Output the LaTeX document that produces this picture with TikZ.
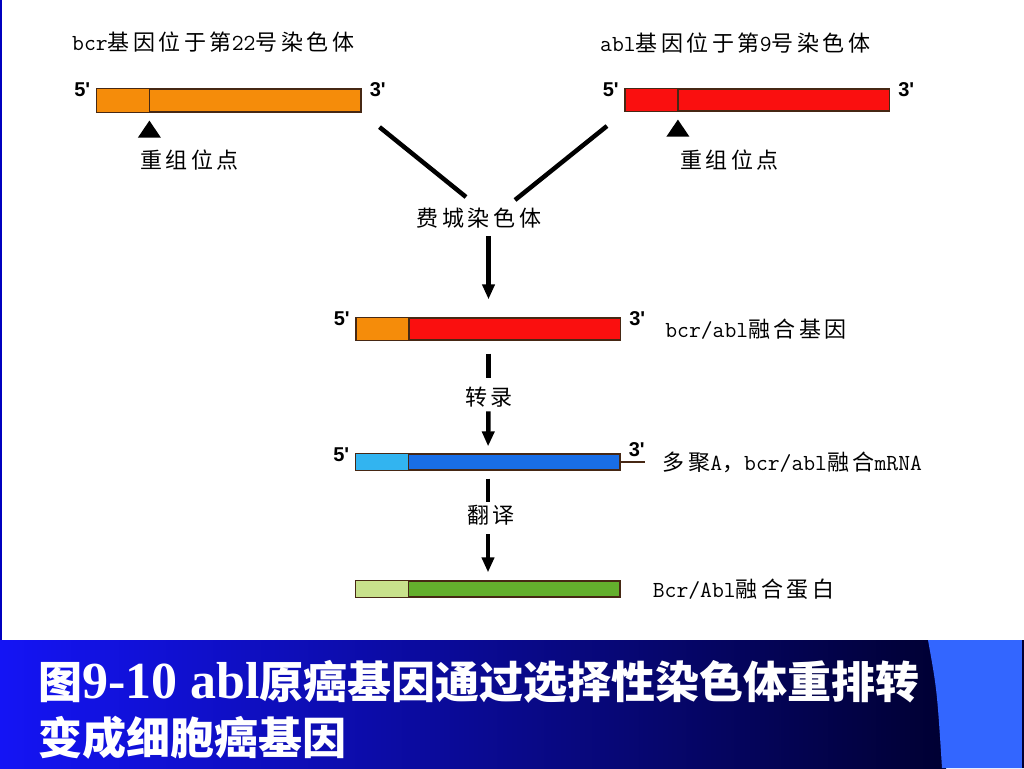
\documentclass[tikz,border=0pt]{standalone}
\usepackage{fontspec}
\setmainfont{Noto Sans CJK SC}
\newfontfamily\cjk[LetterSpace=16]{Noto Sans CJK SC}
\newfontfamily\tnr{Liberation Serif}
\newfontfamily\arial{Liberation Sans}
\usepackage{tikz}
\usetikzlibrary{arrows.meta}
\usetikzlibrary{positioning}
\definecolor{bcrorange}{RGB}{245,140,10}
\definecolor{ablred}{RGB}{250,15,15}
\definecolor{rnalight}{RGB}{50,180,240}
\definecolor{rnablue}{RGB}{25,110,230}
\definecolor{protlight}{RGB}{200,225,140}
\definecolor{protgreen}{RGB}{100,175,45}
\definecolor{barline}{RGB}{70,40,20}
\definecolor{bannerleft}{RGB}{20,20,245}
\definecolor{bannerright}{RGB}{0,0,50}
\definecolor{bannerside}{RGB}{51,102,255}
\newcommand{\lat}{\fontsize{23}{24}\selectfont\ttfamily}

\begin{document}
\begin{tikzpicture}[x=1pt,y=-1pt,
  >={Triangle[length=15pt,width=12pt]},
  gene/.style={draw=barline,line width=1.2pt,inner sep=0pt,minimum width=264pt},
  link/.style={line width=4.5pt},
  lbl/.style={inner sep=0pt,font=\fontsize{22}{24}\selectfont\cjk},
  prime/.style={inner sep=0pt,font=\fontsize{20}{22}\selectfont\arial\bfseries},
  banner/.style={inner sep=0pt,text=white,font=\fontsize{44}{50}\selectfont\bfseries}]
      \fill[white] (0,0) rectangle (1024,768);
      \useasboundingbox (0,0) rectangle (1024,768);
      \draw[blue!75!black,line width=2pt] (1,0) -- (1,640);

     \node [lbl,anchor=west] (T1) at (72,42) {{\lat bcr}基因位于第{\lat 22}号染色体};
     \node [lbl,anchor=west] (T2) at (600,43) {{\lat abl}基因位于第{\lat 9}号染色体};

     \node [gene,fill=bcrorange,minimum height=23pt] (B1) at (229,100.5) {};
     \node [gene,fill=ablred,minimum height=22pt] (B2) at (757.5,100) {};
     \node [gene,fill=ablred,minimum height=22pt] (F1) at (488.5,329) {};
     \node [gene,fill=rnablue,minimum height=16pt] (M1) at (488,462) {};
     \node [gene,fill=protgreen,minimum height=16pt] (P1) at (488,589) {};

     \foreach \n/\c in {B1/bcrorange,B2/ablred,F1/bcrorange,M1/rnalight,P1/protlight}
       \draw[draw=barline,line width=1.2pt,fill=\c] (\n.north west) rectangle ([xshift=53pt]\n.south west);

     \foreach \n in {B1,B2,F1,M1}
       \node [prime,anchor=base east] at ([xshift=-6pt,yshift=-8pt]\n.north west) {5\textquotesingle};
     \foreach \n in {B1,B2,F1}
       \node [prime,anchor=base west] at ([xshift=8pt,yshift=-8pt]\n.north east) {3\textquotesingle};
     \node [prime,anchor=base west] at ([xshift=8pt,yshift=-3pt]M1.north east) {3\textquotesingle};
     \draw[barline,line width=1.2pt] (M1.east) -- ++(24,0);

     \foreach \n in {B1,B2}
       \fill ([xshift=53pt,yshift=-8pt]\n.south west) -- ++(11.5,17) -- ++(-23,0) -- cycle;
     \node [lbl,anchor=west] (S1) at (140,160) {重组位点};
     \node [lbl,anchor=west] (S2) at (680,160) {重组位点};

     \node [lbl] (Ph) at (479,218) {费城染色体};
     \coordinate (J1) at (466,197);
     \coordinate (J2) at (515,200);
     \draw[link,shorten <=23pt] (B1.south east) -- (J1);
     \draw[link,shorten <=23pt] (B2.south west) -- (J2);
     \draw[link,->,shorten <=8pt,shorten >=18pt] (Ph.south -| F1.north) -- (F1.north);

     \node [lbl,right=44pt of F1.east] (L1) {{\lat bcr/abl}融合基因};
     \node [lbl,right=42pt of M1.east] (L2) {多聚{\lat A}，{\lat bcr/abl}融合{\lat mRNA}};
     \node [lbl,right=32pt of P1.east] (L3) {{\lat Bcr/Abl}融合蛋白};

     \node [lbl] (R1) at (489,397) {转录};
     \node [lbl] (R2) at (491,515) {翻译};
     \draw[link,shorten <=13pt,shorten >=9pt] (F1.south) -- (R1.north -| F1.south);
     \draw[link,->,shorten <=4pt,shorten >=7pt] (R1.south -| F1.south) -- (M1.north);
     \draw[link,shorten <=8pt,shorten >=3pt] (M1.south) -- (R2.north -| M1.south);
     \draw[link,->,shorten <=9pt,shorten >=8pt] (R2.south -| M1.south) -- (P1.north);

     \shade[left color=bannerleft,right color=bannerright] (0,640) rectangle (946,768);
     \fill[bannerside] (928,640) .. controls (937,690) .. (942,768) -- (1024,768) -- (1024,640) -- cycle;
     \draw[bannerright,line width=1.5pt] (1023,640) -- (1023,768);
     \node [banner,anchor=west] (C1) at (38,682) {图{\fontsize{52}{56}\selectfont\tnr 9-10 abl}原癌基因通过选择性染色体重排转};
     \node [banner,anchor=west] (C2) at (38,738) {变成细胞癌基因};
\end{tikzpicture}
\end{document}
